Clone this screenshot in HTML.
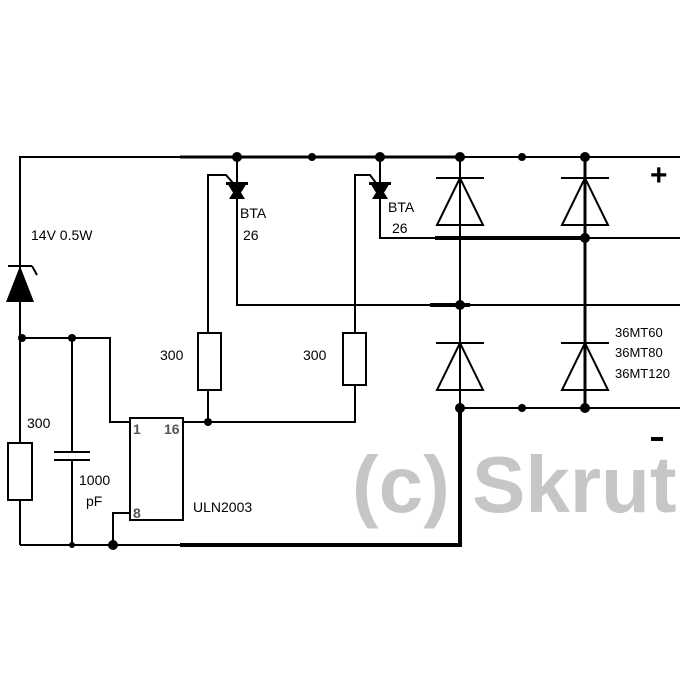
<!DOCTYPE html>
<html><head><style>body{margin:0;background:#fff}svg{display:block}text{font-family:"Liberation Sans",sans-serif}</style></head><body>
<svg width="700" height="700" viewBox="0 0 700 700">
<text x="352" y="512" font-size="80" font-weight="bold" fill="#c6c6c6">(c) Skrut</text>
<g stroke="#000" stroke-width="2" fill="none">
<polyline points="20,545 20,157 680,157"/>
<line x1="180" y1="157" x2="460" y2="157" stroke-width="3"/>
<polyline points="20,338 110,338 110,422 130,422"/>
<line x1="72" y1="338" x2="72" y2="452"/><line x1="72" y1="460" x2="72" y2="545"/>
<line x1="54" y1="452" x2="90" y2="452"/><line x1="54" y1="460" x2="90" y2="460"/>
<rect x="8" y="443" width="24" height="57" fill="#fff"/>
<line x1="20" y1="545" x2="180" y2="545"/>
<polyline points="180,545 460,545 460,408" stroke-width="4"/>
<rect x="130" y="418" width="53" height="102"/>
<polyline points="130,513 113,513 113,545"/>
<polyline points="183,422 355,422 355,385"/>
<rect x="343" y="333" width="23" height="52" fill="#fff"/>
<polyline points="355,333 355,175 370,175 376,183"/>
<polyline points="208,422 208,390"/>
<rect x="198" y="333" width="23" height="57" fill="#fff"/>
<polyline points="208,333 208,175 226,175 233,183"/>
<polyline points="237,157 237,305 680,305"/>
<line x1="430" y1="305" x2="470" y2="305" stroke-width="4"/>
<polyline points="380,157 380,238 680,238"/>
<line x1="435" y1="238" x2="585" y2="238" stroke-width="4"/>
<line x1="460" y1="408" x2="680" y2="408"/>
<line x1="460" y1="157" x2="460" y2="408"/>
<line x1="585" y1="157" x2="585" y2="408" stroke-width="3"/>
<line x1="436" y1="178" x2="484" y2="178"/><polygon points="460,178 437,225 483,225"/>
<line x1="561" y1="178" x2="609" y2="178"/><polygon points="585,178 562,225 608,225"/>
<line x1="436" y1="343" x2="484" y2="343"/><polygon points="460,343 437,390 483,390"/>
<line x1="561" y1="343" x2="609" y2="343"/><polygon points="585,343 562,390 608,390"/>
<line x1="8" y1="266" x2="32" y2="266"/><line x1="32" y1="266" x2="37" y2="275"/>
</g>
<g fill="#000">
<polygon points="20,266 6,302 34,302"/>
<polygon points="227,183 247,183 237,199"/><polygon points="229,199 245,199 237,186"/><rect x="226" y="182" width="22" height="3"/>
<polygon points="370,183 390,183 380,199"/><polygon points="372,199 388,199 380,186"/><rect x="369" y="182" width="22" height="3"/>
<circle cx="22" cy="338" r="4"/><circle cx="72" cy="338" r="4"/><circle cx="72" cy="545" r="3"/>
<circle cx="113" cy="545" r="5"/><circle cx="208" cy="422" r="4"/>
<circle cx="237" cy="157" r="5"/><circle cx="312" cy="157" r="4"/><circle cx="380" cy="157" r="5"/>
<circle cx="460" cy="157" r="5"/><circle cx="522" cy="157" r="4"/><circle cx="585" cy="157" r="5"/>
<circle cx="585" cy="238" r="5"/><circle cx="460" cy="305" r="5"/>
<circle cx="460" cy="408" r="5"/><circle cx="522" cy="408" r="4"/><circle cx="585" cy="408" r="5"/>
</g>
<g font-size="14" fill="#000">
<text x="31" y="240">14V 0.5W</text>
<text x="240" y="218">BTA</text><text x="243" y="240">26</text>
<text x="388" y="212">BTA</text><text x="392" y="233">26</text>
<text x="160" y="360">300</text><text x="303" y="360">300</text>
<text x="27" y="428">300</text>
<text x="79" y="485">1000</text><text x="86" y="506">pF</text>
<text x="193" y="512">ULN2003</text>
<text x="615" y="337" font-size="13">36MT60</text>
<text x="615" y="357" font-size="13">36MT80</text>
<text x="615" y="378" font-size="13">36MT120</text>
</g>
<g font-size="14" fill="#555" font-weight="bold">
<text x="133" y="434">1</text><text x="164" y="434">16</text><text x="133" y="518">8</text>
</g>
<text x="650" y="185" font-size="30" font-weight="bold">+</text>
<rect x="651" y="437" width="12" height="4" fill="#000"/>
</svg>
</body></html>
